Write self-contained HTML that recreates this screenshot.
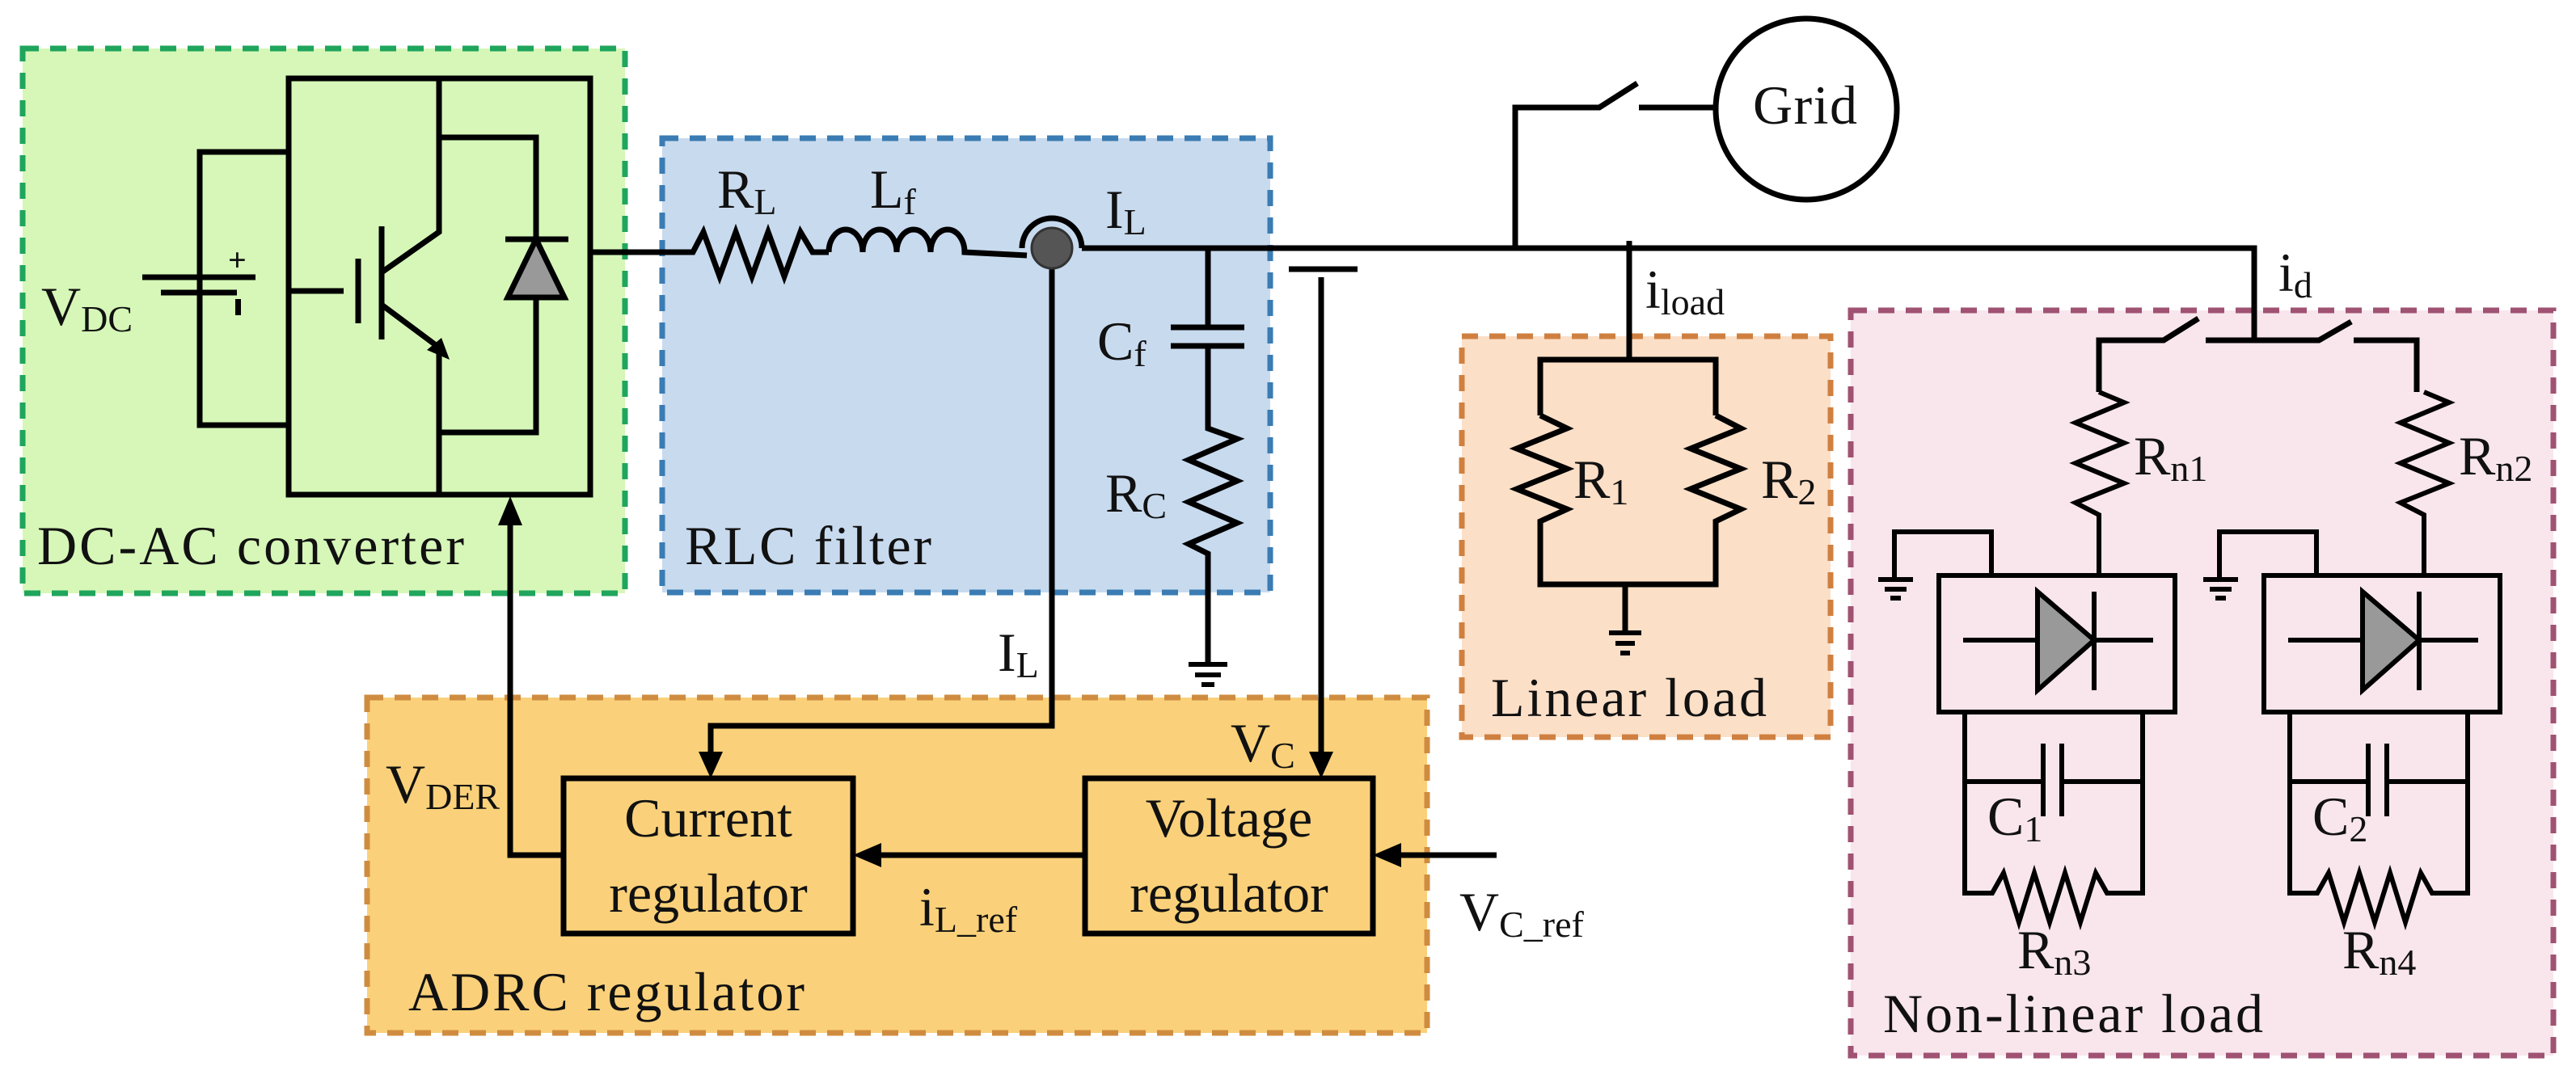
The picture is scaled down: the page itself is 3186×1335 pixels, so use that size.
<!DOCTYPE html>
<html><head><meta charset="utf-8"><style>html,body{margin:0;padding:0;background:#fff}svg{display:block}text{font-family:"Liberation Serif","Times New Roman",serif;fill:#111}</style></head><body>
<svg width="3186" height="1335" viewBox="0 0 3186 1335" xmlns="http://www.w3.org/2000/svg">
<rect x="28" y="60" width="745" height="674" fill="#d6f7b8" stroke="#1fa55c" stroke-width="7" stroke-dasharray="20 14"/>
<rect x="819" y="171" width="752" height="562" fill="#c8daee" stroke="#3a7cb3" stroke-width="7" stroke-dasharray="20 14"/>
<rect x="454" y="863" width="1311" height="415" fill="#fad17a" stroke="#cf8c40" stroke-width="7" stroke-dasharray="20 14"/>
<rect x="1808" y="416" width="456" height="496" fill="#fbdfc7" stroke="#cf8040" stroke-width="7" stroke-dasharray="20 14"/>
<rect x="2289" y="384" width="869" height="922" fill="#f8e6ec" stroke="#a05272" stroke-width="7" stroke-dasharray="20 14"/>

<g fill="none" stroke="#000" stroke-width="7" stroke-linejoin="miter">
<rect x="357" y="97" width="373" height="515"/>
<polyline points="357,188 247,188 247,526 357,526"/>
<line x1="176" y1="343" x2="316" y2="343"/>
<line x1="199" y1="362" x2="293" y2="362"/>
<line x1="357" y1="360" x2="425" y2="360"/>
<line x1="443" y1="320" x2="443" y2="400"/>
<line x1="472" y1="280" x2="472" y2="420"/>
<polyline points="543,97 543,287 472,337"/>
<polyline points="472,377 543,430 543,612"/>
<polyline points="543,170 663,170 663,296"/>
<line x1="625" y1="296" x2="703" y2="296"/>
<polyline points="663,368 663,535 543,535"/>
<polyline points="730,312 857,312 870,287 890,342 910,287 930,342 950,287 970,342 990,287 1005,312 1025,312"/>
<path d="M1025,312 a21,28 0 0 1 42,0 a21,28 0 0 1 42,0 a21,28 0 0 1 42,0 a21,28 0 0 1 42,0 L1270,316"/>
<path d="M1264,307 a37,37 0 0 1 74,0"/>
<polyline points="1338,307 2788,307 2788,421"/>
<polyline points="1494,307 1494,405"/>
<line x1="1448" y1="405" x2="1539" y2="405"/>
<line x1="1448" y1="428" x2="1539" y2="428"/>
<polyline points="1494,428 1494,530 1530,543 1470,569 1530,595 1470,621 1530,647 1470,673 1494,685 1494,822"/>
<polyline points="1301,307 1301,898 879,898 879,945"/>
<line x1="1594" y1="333" x2="1679" y2="333"/>
<line x1="1634" y1="343" x2="1634" y2="940"/>
<rect x="697" y="963" width="358" height="192"/>
<rect x="1342" y="963" width="356" height="192"/>
<line x1="1342" y1="1058" x2="1085" y2="1058"/>
<line x1="1851" y1="1058" x2="1728" y2="1058"/>
<polyline points="697,1058 631,1058 631,645"/>
<polyline points="1874,307 1874,133 1978,133 2025,103"/>
<line x1="2027" y1="133" x2="2124" y2="133"/>
<circle cx="2234" cy="135" r="112"/>
<polyline points="2015,298 2015,445"/>
<polyline points="1905,514 1905,445 2122,445 2122,514"/>
<polyline points="1905,514 1938,530 1876,555 1938,580 1876,605 1938,630 1905,645 1905,723 2122,723 2122,645 2153,630 2091,605 2153,580 2091,555 2153,530 2122,514"/>
<line x1="2010" y1="723" x2="2010" y2="783"/>
<polyline points="2788,421 2728,421"/>
<polyline points="2596,485 2596,421 2676,421 2719,394"/>
<polyline points="2788,421 2868,421 2908,398"/>
<polyline points="2911,421 2989,421 2989,485"/>
</g>
<g fill="none" stroke="#000" stroke-width="6">
<g id="u1">
<polyline points="2596,485 2627,498 2567,523 2627,548 2567,573 2627,598 2567,622 2596,637 2596,712"/>
<rect x="2398" y="712" width="292" height="169"/>
<polyline points="2463,712 2463,658 2343,658 2343,717"/>
<line x1="2323" y1="717" x2="2366" y2="717"/>
<line x1="2331" y1="729" x2="2358" y2="729"/>
<line x1="2338" y1="740" x2="2351" y2="740"/>
<line x1="2428" y1="792" x2="2663" y2="792"/>
<line x1="2590" y1="732" x2="2590" y2="854"/>
<polyline points="2430,881 2430,1105 2464,1105 2478,1080 2497,1141 2516,1080 2535,1141 2554,1080 2573,1141 2592,1080 2606,1105 2650,1105 2650,881"/>
<polyline points="2430,967 2527,967"/>
<polyline points="2550,967 2650,967"/>
<line x1="2527" y1="920" x2="2527" y2="1010"/>
<line x1="2550" y1="920" x2="2550" y2="1010"/>
</g>
<use href="#u1" transform="translate(402,0)"/>
<line x1="1990" y1="783" x2="2030" y2="783"/>
<line x1="1998" y1="796" x2="2022" y2="796"/>
<line x1="2004" y1="808" x2="2016" y2="808"/>
<line x1="1470" y1="822" x2="1518" y2="822"/>
<line x1="1478" y1="835" x2="1510" y2="835"/>
<line x1="1486" y1="847" x2="1502" y2="847"/>
</g>
<polygon points="663,296 628,368 698,368" fill="#999" stroke="#000" stroke-width="7"/>
<polygon points="2520,732 2590,792 2520,854" fill="#999" stroke="#000" stroke-width="6"/>
<polygon points="2922,732 2992,792 2922,854" fill="#999" stroke="#000" stroke-width="6"/>
<circle cx="1301" cy="307" r="25" fill="#555" stroke="#333" stroke-width="3"/>
<polygon points="556,445 528,433 546,418" fill="#000"/>
<polygon points="879,963 864,930 894,930" fill="#000"/>
<polygon points="1634,963 1619,930 1649,930" fill="#000"/>
<polygon points="1055,1058 1090,1043 1090,1073" fill="#000"/>
<polygon points="1698,1058 1733,1043 1733,1073" fill="#000"/>
<polygon points="631,614 616,650 646,650" fill="#000"/>
<text x="282" y="335" font-size="40" font-weight="bold">+</text>
<rect x="291" y="370" width="7" height="20" fill="#000"/>

<g font-size="68" font-family="Liberation Serif, serif">
<text x="51" y="402">V<tspan font-size="46" dy="8">DC</tspan></text>
<text x="887" y="257">R<tspan font-size="46" dy="8">L</tspan></text>
<text x="1076" y="257">L<tspan font-size="46" dy="8">f</tspan></text>
<text x="1367" y="282">I<tspan font-size="46" dy="8">L</tspan></text>
<text x="1357" y="445">C<tspan font-size="46" dy="8">f</tspan></text>
<text x="1367" y="633">R<tspan font-size="46" dy="8">C</tspan></text>
<text x="1234" y="830">I<tspan font-size="46" dy="8">L</tspan></text>
<text x="1522" y="942">V<tspan font-size="46" dy="8">C</tspan></text>
<text x="477" y="993">V<tspan font-size="46" dy="8">DER</tspan></text>
<text x="1137" y="1145">i<tspan font-size="46" dy="8">L_ref</tspan></text>
<text x="1805" y="1151">V<tspan font-size="46" dy="8">C_ref</tspan></text>
<text x="2035" y="381">i<tspan font-size="46" dy="8">load</tspan></text>
<text x="2818" y="360">i<tspan font-size="46" dy="8">d</tspan></text>
<text x="1946" y="616">R<tspan font-size="46" dy="8">1</tspan></text>
<text x="2178" y="616">R<tspan font-size="46" dy="8">2</tspan></text>
<text x="2639" y="587">R<tspan font-size="46" dy="8">n1</tspan></text>
<text x="3041" y="587">R<tspan font-size="46" dy="8">n2</tspan></text>
<text x="2458" y="1033">C<tspan font-size="46" dy="8">1</tspan></text>
<text x="2860" y="1033">C<tspan font-size="46" dy="8">2</tspan></text>
<text x="2495" y="1198">R<tspan font-size="46" dy="8">n3</tspan></text>
<text x="2897" y="1198">R<tspan font-size="46" dy="8">n4</tspan></text>
<text x="2168" y="153" textLength="129">Grid</text>
<text x="876" y="1035" text-anchor="middle">Current</text>
<text x="876" y="1128" text-anchor="middle">regulator</text>
<text x="1520" y="1035" text-anchor="middle">Voltage</text>
<text x="1520" y="1128" text-anchor="middle">regulator</text>
<text x="46" y="698" textLength="528">DC-AC converter</text>
<text x="847" y="698" textLength="305">RLC filter</text>
<text x="505" y="1250" textLength="490">ADRC regulator</text>
<text x="1844" y="886" textLength="341">Linear load</text>
<text x="2329" y="1277" textLength="470">Non-linear load</text>
</g>
</svg>
</body></html>
